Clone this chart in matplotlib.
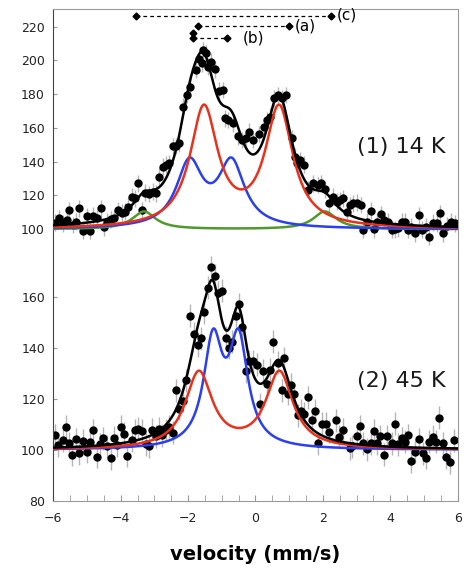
import numpy as np
from matplotlib import pyplot as plt

# ---------------------------------------------------------------
# datos (espectro a 14 K)
# ---------------------------------------------------------------
vel_14K = [-5.95, -5.82, -5.70, -5.60, -5.52, -5.42, -5.33, -5.23, -5.11, -5.01,
           -4.91, -4.81, -4.71, -4.59, -4.50, -4.40, -4.30, -4.20, -4.07, -3.97,
           -3.87, -3.77, -3.67, -3.58, -3.48, -3.38, -3.28, -3.16, -3.05, -2.95,
           -2.85, -2.75, -2.65, -2.56, -2.46, -2.36, -2.26, -2.14, -2.04, -1.94,
           -1.77, -1.67, -1.60, -1.55, -1.47, -1.40, -1.32, -1.20, -1.07, -0.97,
           -0.90, -0.81, -0.66, -0.53, -0.39, -0.29, -0.18, -0.07, 0.10, 0.26,
           0.33, 0.43, 0.56, 0.68, 0.78, 0.92, 1.07, 1.17, 1.22, 1.32,
           1.44, 1.57, 1.71, 1.85, 1.96, 2.06, 2.19, 2.31, 2.41, 2.50,
           2.59, 2.71, 2.80, 2.90, 3.00, 3.12, 3.20, 3.32, 3.42, 3.52,
           3.62, 3.72, 3.81, 3.94, 4.04, 4.14, 4.24, 4.34, 4.44, 4.53,
           4.63, 4.75, 4.85, 4.95, 5.06, 5.16, 5.28, 5.38, 5.47, 5.57,
           5.69, 5.79, 5.92]
cuentas_14K = [103.9, 106.5, 103.5, 105.5, 111.4, 102.5, 104.5, 112.4, 99.1, 107.6,
               99.1, 107.9, 106.5, 112.4, 101.2, 104.5, 105.9, 106.5, 111.4, 109.8,
               110.4, 113.4, 119.3, 118.4, 127.2, 111.4, 121.7, 120.9, 122.3, 121.3,
               131.1, 137.1, 138.1, 139.1, 149.3, 149.3, 150.9, 172.6, 179.5, 184.5,
               194.4, 200.7, 198.3, 206.2, 204.2, 196.3, 199.3, 194.8, 182.1, 182.5,
               165.7, 164.7, 162.8, 155.2, 152.9, 153.9, 157.8, 152.9, 156.4, 160.8,
               164.7, 166.7, 177.6, 179.5, 177.6, 179.5, 153.9, 143.0, 139.1, 141.0,
               138.1, 123.3, 127.2, 126.2, 127.2, 123.7, 115.4, 119.3, 116.3, 117.3,
               118.3, 110.4, 114.4, 115.4, 115.7, 114.4, 99.6, 104.5, 110.9, 100.0,
               104.5, 109.0, 105.5, 104.5, 99.6, 100.0, 100.6, 104.5, 104.5, 99.6,
               101.5, 97.6, 108.4, 99.6, 101.5, 95.7, 103.9, 103.5, 109.4, 97.6,
               102.0, 104.5, 103.5]

# ---------------------------------------------------------------
# datos (espectro a 45 K)
# ---------------------------------------------------------------
vel_45K = [-5.95, -5.85, -5.72, -5.63, -5.53, -5.44, -5.33, -5.23, -5.11, -5.01,
           -4.91, -4.81, -4.71, -4.61, -4.52, -4.40, -4.30, -4.20, -4.10, -4.00,
           -3.90, -3.80, -3.67, -3.58, -3.48, -3.38, -3.26, -3.16, -3.06, -2.96,
           -2.86, -2.77, -2.66, -2.57, -2.46, -2.36, -2.26, -2.16, -2.06, -1.94,
           -1.82, -1.72, -1.62, -1.52, -1.42, -1.32, -1.20, -1.10, -0.99, -0.88,
           -0.79, -0.69, -0.59, -0.49, -0.39, -0.29, -0.18, -0.07, 0.04, 0.13,
           0.23, 0.33, 0.43, 0.53, 0.66, 0.78, 0.85, 0.96, 1.05, 1.15,
           1.25, 1.35, 1.45, 1.57, 1.67, 1.77, 1.86, 1.98, 2.09, 2.19,
           2.39, 2.49, 2.61, 2.80, 2.88, 3.00, 3.10, 3.20, 3.32, 3.42,
           3.52, 3.61, 3.71, 3.82, 3.91, 4.04, 4.14, 4.24, 4.34, 4.44,
           4.53, 4.63, 4.75, 4.86, 4.96, 5.06, 5.16, 5.26, 5.36, 5.46,
           5.57, 5.67, 5.77, 5.89]
cuentas_45K = [105.8, 101.9, 103.8, 109.0, 102.5, 98.1, 104.1, 98.7, 103.6, 99.3,
               103.2, 107.7, 97.4, 102.3, 104.5, 101.5, 96.8, 104.8, 101.9, 109.0,
               106.4, 97.7, 103.8, 107.7, 108.3, 107.4, 102.3, 101.5, 107.9, 105.4,
               108.3, 105.8, 107.7, 109.0, 106.7, 123.3, 116.0, 119.2, 127.2, 152.5,
               145.5, 141.0, 143.6, 153.8, 163.5, 171.5, 168.2, 161.5, 162.2, 143.8,
               140.0, 142.3, 152.5, 157.0, 148.1, 130.8, 134.6, 134.6, 133.3, 117.9,
               131.0, 125.9, 131.4, 142.3, 134.0, 123.3, 135.9, 122.0, 125.4, 121.8,
               113.5, 115.4, 114.1, 120.5, 111.5, 115.4, 102.5, 110.2, 110.2, 107.0,
               111.5, 105.1, 107.9, 100.6, 101.5, 105.4, 109.2, 102.5, 100.2, 102.5,
               107.4, 102.5, 105.4, 98.1, 105.4, 102.5, 110.2, 102.3, 104.5, 103.2,
               105.8, 95.5, 99.3, 104.1, 98.7, 97.0, 103.2, 105.1, 103.2, 112.5,
               102.5, 97.2, 95.1, 103.8]

error_14K = 5.0
error_45K = 4.5

# ---------------------------------------------------------------
# parametros de los dobletes ajustados (centros, HWHM, altura)
# ---------------------------------------------------------------
linea_base = 100.0
rojo_14K = ([-1.53, 0.70], 0.50, 70.5)
azul_14K = ([-1.96, -0.71], 0.47, 37.8)
verde_14K = ([-3.31, 2.06], 0.42, 10.5)

rojo_45K = ([-1.68, 0.71], 0.49, 29.8)
azul_45K = ([-1.26, -0.50], 0.34, 40.6)

# posiciones de las lineas (a), (b), (c)
marcas_c = ([-3.54, 2.24], 226.6)
marcas_a = ([-1.71, 0.99], 220.7)
marcas_b = ([-1.86, -0.85], 213.3)
marca_b_extra = (-1.86, 216.3)


def doblete(v, params):
    centros, h, a = params
    suma = np.zeros_like(v)
    for c in centros:
        suma = suma + a * h**2 / ((v - c)**2 + h**2)
    return suma


v = np.linspace(-6, 6, 600)

# colores
ROJO = '#e8321c'
AZUL = '#2b3ff0'
VERDE = '#4f9a2c'
GRIS = '#9a9a9a'

fig = plt.figure(figsize=(4.69, 5.71), dpi=100)
ax1 = fig.add_axes([0.1137, 0.5657, 0.862, 0.418])
ax2 = fig.add_axes([0.1137, 0.1226, 0.862, 0.4431], sharex=ax1)

# ---------------- panel superior -----------------
ax1.errorbar(vel_14K, cuentas_14K, yerr=error_14K, fmt='o', color='black',
             ms=5, ecolor='#b5b5b5', elinewidth=1, capsize=0, zorder=2)
ax1.plot(v, linea_base + doblete(v, verde_14K), color=VERDE, lw=1.8, zorder=3)
ax1.plot(v, linea_base + doblete(v, azul_14K), color=AZUL, lw=1.8, zorder=3)
ax1.plot(v, linea_base + doblete(v, rojo_14K), color=ROJO, lw=1.8, zorder=3)
total_14K = linea_base + doblete(v, rojo_14K) + doblete(v, azul_14K) + doblete(v, verde_14K)
ax1.plot(v, total_14K, color='black', lw=1.8, zorder=4)

# lineas punteadas (a), (b), (c)
for xs, y in (marcas_c, marcas_a, marcas_b):
    ax1.plot(xs, [y, y], color='black', ls=(0, (3, 2.5)), lw=0.9,
             marker='D', ms=3.5, zorder=5)
ax1.plot([marca_b_extra[0]], [marca_b_extra[1]], 'D', color='black', ms=3.5)
ax1.text(2.42, 227.0, "(c)", fontsize=11, va='center')
ax1.text(1.17, 220.7, "(a)", fontsize=11, va='center')
ax1.text(-0.37, 213.3, "(b)", fontsize=11, va='center')
ax1.text(3.0, 148.9, "(1) 14 K", fontsize=16, va='center', color='#1a1a1a')

ax1.set_ylim(88.9, 230.3)
ax1.set_yticks([100, 120, 140, 160, 180, 200, 220])

# ---------------- panel inferior -----------------
ax2.errorbar(vel_45K, cuentas_45K, yerr=error_45K, fmt='o', color='black',
             ms=5, ecolor='#b5b5b5', elinewidth=1, capsize=0, zorder=2)
ax2.plot(v, linea_base + doblete(v, azul_45K), color=AZUL, lw=1.8, zorder=3)
ax2.plot(v, linea_base + doblete(v, rojo_45K), color=ROJO, lw=1.8, zorder=3)
total_45K = linea_base + doblete(v, rojo_45K) + doblete(v, azul_45K)
ax2.plot(v, total_45K, color='black', lw=1.8, zorder=4)
ax2.text(3.0, 127.0, "(2) 45 K", fontsize=16, va='center', color='#1a1a1a')

ax2.set_ylim(80, 179)
ax2.set_yticks([80, 100, 120, 140, 160])
ax2.set_xlim(-6, 6)
ax2.set_xticks([-6, -4, -2, 0, 2, 4, 6])
ax2.set_xticks(np.arange(-6, 6.01, 0.5), minor=True)
ax2.set_xlabel("velocity (mm/s)", fontsize=14, fontweight='bold', labelpad=14)

# ---------------- marcos y ticks -----------------
ax1.spines['bottom'].set_visible(False)
ax2.spines['top'].set_visible(False)
for ax in (ax1, ax2):
    ax.spines['left'].set_color('#444444')
    for lado in ('top', 'right', 'bottom'):
        ax.spines[lado].set_color(GRIS)
    ax.tick_params(axis='y', direction='in', length=3, color=GRIS,
                   labelsize=9, labelcolor='#222222', pad=6)
    ax.tick_params(axis='x', which='both', direction='in', length=4,
                   color=GRIS, labelsize=9, labelcolor='#222222', pad=8)
ax1.tick_params(axis='x', which='both', bottom=False, labelbottom=False)

fig.savefig("out.png", dpi=100)
